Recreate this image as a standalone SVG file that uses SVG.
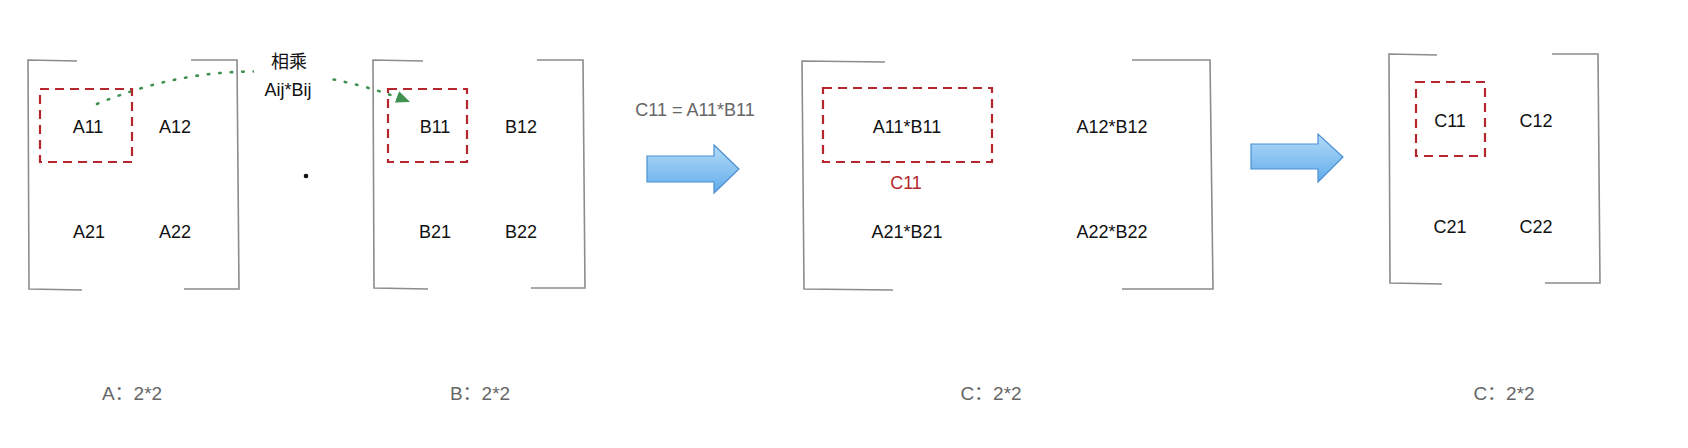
<svg xmlns="http://www.w3.org/2000/svg" width="1688" height="448" viewBox="0 0 1688 448">
<style>
text{font-family:"Liberation Sans","Noto Sans CJK SC",sans-serif;fill:#111;text-anchor:middle}
.cell{font-size:18px}
.lbl{fill:#666}
.br{fill:none;stroke:#8c8c8c;stroke-width:1.6}
.sel{fill:none;stroke:#b5262e;stroke-width:2.2;stroke-dasharray:9 6}
.conn{fill:none;stroke:#3f9150;stroke-width:2.6;stroke-dasharray:1.5 10;stroke-linecap:round}
.big{fill:url(#blue);stroke:#4a8fd3;stroke-width:1.2}
</style>
<defs>
<linearGradient id="blue" x1="0" y1="0" x2="0" y2="1">
<stop offset="0" stop-color="#b3dbf8"/>
<stop offset="1" stop-color="#62aceb"/>
</linearGradient>
<marker id="tri" markerUnits="userSpaceOnUse" markerWidth="16" markerHeight="14" refX="14" refY="6" orient="auto">
<path d="M0,0 L14,6 L0,12 Z" fill="#3f9150"/>
</marker>
</defs>
<rect width="1688" height="448" fill="#fff"/>

<g id="connectors">
<path class="conn" d="M97,104 Q250,40 410,102" marker-end="url(#tri)"/>
</g>

<g id="label-mul">
<rect x="254" y="48" width="76" height="56" fill="#fff"/>
<text x="289" y="68" style="font-size:18px">相乘</text>
<text x="288" y="96" style="font-size:18px">Aij*Bij</text>
</g>

<g id="matrixA">
<path class="br" d="M77,61 L28,60 L29,289 L82,290"/>
<path class="br" d="M191,60 L237,60 L239,289 L184,289"/>
<rect class="sel" x="40" y="89" width="92" height="73"/>
<text class="cell" x="88" y="133">A11</text>
<text class="cell" x="175" y="133">A12</text>
<text class="cell" x="89" y="238">A21</text>
<text class="cell" x="175" y="238">A22</text>
</g>

<g id="dot"><circle cx="306" cy="176" r="2.3" fill="#111"/></g>

<g id="matrixB">
<path class="br" d="M423,61 L373,60 L374,288 L428,289"/>
<path class="br" d="M537,60 L583,60 L585,288 L531,288"/>
<rect class="sel" x="388" y="89" width="79" height="73"/>
<text class="cell" x="435" y="133">B11</text>
<text class="cell" x="521" y="133">B12</text>
<text class="cell" x="435" y="238">B21</text>
<text class="cell" x="521" y="238">B22</text>
</g>

<g id="formula"><text class="lbl" x="695" y="116" style="font-size:18px">C11 = A11*B11</text></g>

<g id="arrow1"><path class="big" d="M647,156 L714,156 L714,145 L739,169 L714,193 L714,182 L647,182 Z"/></g>

<g id="matrixC">
<path class="br" d="M885,62 L802,61 L804,289 L893,290"/>
<path class="br" d="M1132,60 L1210,60 L1213,289 L1122,289"/>
<rect class="sel" x="823" y="88" width="169" height="74"/>
<text class="cell" x="907" y="133">A11*B11</text>
<text class="cell" x="1112" y="133">A12*B12</text>
<text class="cell" x="906" y="189" style="fill:#b5262e">C11</text>
<text class="cell" x="907" y="238">A21*B21</text>
<text class="cell" x="1112" y="238">A22*B22</text>
</g>

<g id="arrow2"><path class="big" d="M1251,144 L1318,144 L1318,134 L1343,157 L1318,182 L1318,169 L1251,169 Z"/></g>

<g id="matrixC2">
<path class="br" d="M1437,55 L1389,54 L1390,283 L1442,284"/>
<path class="br" d="M1552,54 L1598,54 L1600,283 L1545,283"/>
<rect class="sel" x="1416" y="82" width="69" height="74"/>
<text class="cell" x="1450" y="127">C11</text>
<text class="cell" x="1536" y="127">C12</text>
<text class="cell" x="1450" y="233">C21</text>
<text class="cell" x="1536" y="233">C22</text>
</g>

<g id="captions">
<text class="lbl" x="132" y="400" style="font-size:19px">A：2*2</text>
<text class="lbl" x="480" y="400" style="font-size:19px">B：2*2</text>
<text class="lbl" x="991" y="400" style="font-size:19px">C：2*2</text>
<text class="lbl" x="1504" y="400" style="font-size:19px">C：2*2</text>
</g>
</svg>
